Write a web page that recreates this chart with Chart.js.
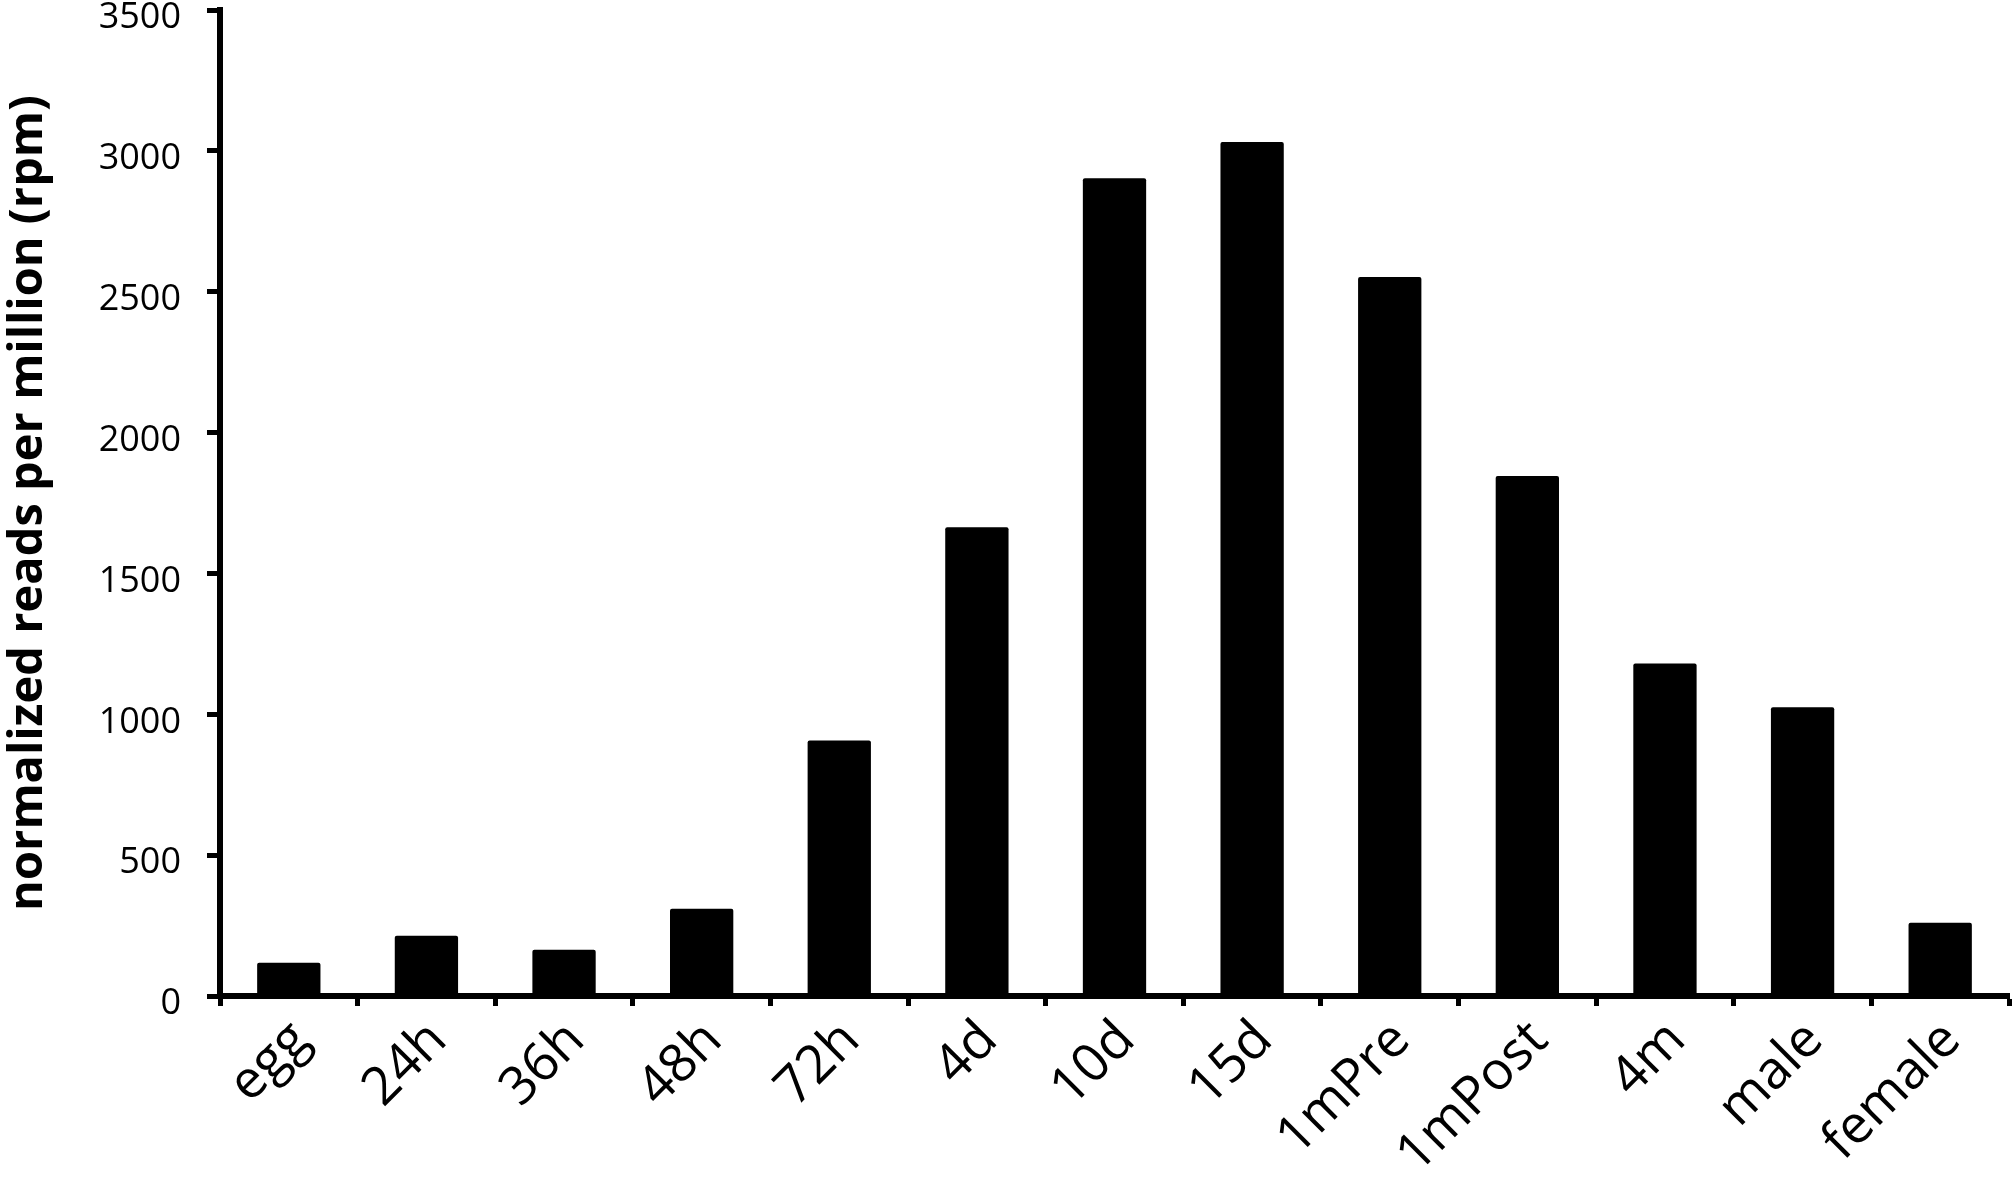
<!DOCTYPE html>
<html>
<head>
<meta charset="utf-8">
<script src="https://cdn.jsdelivr.net/npm/chart.js@4"></script>
<style>
  html, body { margin: 0; padding: 0; background: #fff; }
  #wrap { width: 2012px; height: 1178px; position: relative; }
</style>
</head>
<body>
<div id="wrap"><canvas id="chart" width="2012" height="1178"></canvas></div>
<script>
// Expression by stage (rpm)
const stages = ['egg', '24h', '36h', '48h', '72h', '4d', '10d', '15d', '1mPre', '1mPost', '4m', 'male', 'female'];
const rpmValues = [118, 214, 164, 310, 907, 1664, 2903, 3031, 2552, 1846, 1180, 1025, 260];
const yTicks = [0, 500, 1000, 1500, 2000, 2500, 3000, 3500];
const yTitle = 'normalized reads per million (rpm)';

const ctx = document.getElementById('chart').getContext('2d');
new Chart(ctx, {
  type: 'bar',
  data: {
    labels: stages,
    datasets: [{
      data: rpmValues,
      backgroundColor: '#000',
      borderWidth: 0,
      borderRadius: 2,
      borderSkipped: 'bottom',
      categoryPercentage: 1,
      barPercentage: 0.46
    }]
  },
  options: {
    responsive: false,
    animation: false,
    layout: { padding: { top: 10, right: 3, left: 0, bottom: 0 } },
    plugins: { legend: { display: false }, tooltip: { enabled: false } },
    scales: {
      x: {
        grid: { display: true, offset: true, drawOnChartArea: false, drawTicks: true, tickLength: 10, tickWidth: 5, color: '#000' },
        border: { display: true, color: '#000', width: 6 },
        ticks: {
          color: '#000',
          font: { family: 'Open Sans', size: 53 },
          maxRotation: 45, minRotation: 45,
          padding: 3,
          labelOffset: 12,
          autoSkip: false
        },
        afterFit: s => { s.height = 182; }
      },
      y: {
        min: 0, max: 3500,
        afterBuildTicks: s => { s.ticks = yTicks.map(v => ({ value: v })); },
        grid: { display: true, drawOnChartArea: false, drawTicks: true, tickLength: 13, tickWidth: 5, color: '#000' },
        border: { display: true, color: '#000', width: 6 },
        ticks: {
          color: '#000',
          font: { family: 'Open Sans', size: 36 },
          padding: 26,
          labelOffset: 8,
          callback: v => String(v)
        },
        title: {
          display: true,
          text: yTitle,
          color: '#000',
          font: { family: 'Open Sans', size: 47, weight: 'bold' },
          padding: 0
        },
        afterFit: s => { s.width = 220; s.paddingTop = 0; s.paddingBottom = 0; }
      }
    }
  }
});
</script>
</body>
</html>
